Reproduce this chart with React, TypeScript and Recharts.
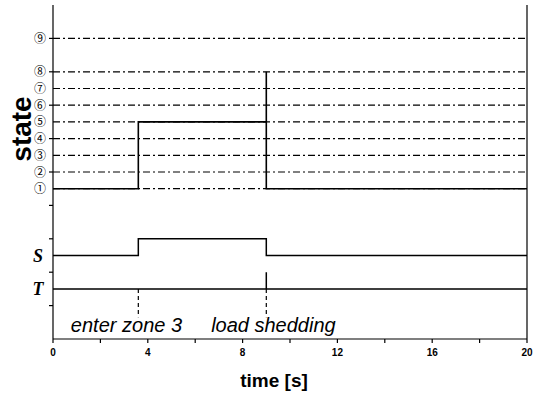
import React from "react";
import {
  ComposedChart,
  Line,
  Scatter,
  XAxis,
  YAxis,
  ReferenceLine,
  Label,
} from "recharts";

// step vertices of each trace (time in s, level on the common y scale)
const stateTimes = [0, 3.6, 3.6, 9, 9, 9, 20];
const stateLevels = [1, 1, 5, 5, 8, 1, 1];
const sTimes = [0, 3.6, 3.6, 9, 9, 20];
const sLevels = [-3, -3, -2, -2, -3, -3];
const tTimes = [0, 9, 9, 9, 20];
const tLevels = [-5, -5, -4, -5, -5];

// dash-dot state lines; state 9 sits two steps above state 8
const gridLevels = [1, 2, 3, 4, 5, 6, 7, 8, 10];
const yTicks = [-6, -5, -4, -3, -2, 0, 1, 2, 3, 4, 5, 6, 7, 8, 10];
const yLabels: Record<number, string> = {
  1: "①",
  2: "②",
  3: "③",
  4: "④",
  5: "⑤",
  6: "⑥",
  7: "⑦",
  8: "⑧",
  10: "⑨",
  [-3]: "S",
  [-5]: "T",
};
const xTicks = [0, 2, 4, 6, 8, 10, 12, 14, 16, 18, 20];

const eventTimes = [3.6, 9];
const eventLabels = ["enter zone 3", "load shedding"];
const eventLabelTimes = [3.1, 9.3];

const toPoints = (ts: number[], vs: number[]) => ts.map((t, i) => ({ t, v: vs[i] }));

const stateData = toPoints(stateTimes, stateLevels);
const sData = toPoints(sTimes, sLevels);
const tData = toPoints(tTimes, tLevels);
const notes = eventLabels.map((label, i) => ({ t: eventLabelTimes[i], v: -7.6, label }));

const YTick = ({ x, y, payload }: any) => {
  const v = payload.value;
  const txt = yLabels[v];
  const isLetter = v === -3 || v === -5;
  return (
    <g>
      {v % 2 === 0 && <line x1={x - 4} x2={x} y1={y} y2={y} stroke="#000" strokeWidth={1.2} />}
      {txt && (
        <text
          x={isLetter ? x - 15 : x - 13}
          y={y}
          dy={isLetter ? 6 : 4.5}
          textAnchor="middle"
          fontFamily={isLetter ? "'Liberation Serif', serif" : "'Noto Sans CJK JP', sans-serif"}
          fontStyle={isLetter ? "italic" : "normal"}
          fontWeight={isLetter ? "bold" : "normal"}
          fontSize={isLetter ? 18 : 12}
          fill="#000"
        >
          {txt}
        </text>
      )}
    </g>
  );
};

const XTick = ({ x, y, payload }: any) => {
  const v = payload.value;
  return (
    <g>
      <line x1={x} x2={x} y1={y} y2={y + 4} stroke="#000" strokeWidth={1.2} />
      {v % 4 === 0 && (
        <text
          x={x}
          y={y + 17}
          textAnchor="middle"
          fontFamily="'Liberation Sans', Arial, sans-serif"
          fontWeight="bold"
          fontSize={10}
          fill="#000"
        >
          {v}
        </text>
      )}
    </g>
  );
};

const NoteShape = (p: any) => (
  <text
    x={p.cx}
    y={p.cy}
    textAnchor="middle"
    fontFamily="'Liberation Sans', Arial, sans-serif"
    fontStyle="italic"
    fontSize={20}
    fill="#000"
  >
    {p.payload.label}
  </text>
);

export default function App() {
  return (
    <div style={{ position: "fixed", left: 0, top: 0, background: "#fff" }}>
      <ComposedChart width={533} height={400} margin={{ top: 5, right: 0, bottom: 41, left: 0 }}>
        <XAxis
          dataKey="t"
          type="number"
          domain={[0, 20]}
          ticks={xTicks}
          allowDuplicatedCategory={false}
          stroke="#000"
          strokeWidth={1.2}
          height={20}
          tickSize={0}
          tickMargin={0}
          tick={<XTick />}
          interval={0}
        >
          <Label
            content={({ viewBox }: any) => (
              <text
                x={viewBox.x + viewBox.width / 2 - 16}
                y={387}
                textAnchor="middle"
                fontFamily="'Liberation Sans', Arial, sans-serif"
                fontWeight="bold"
                fontSize={19}
                fill="#000"
              >
                time [s]
              </text>
            )}
          />
        </XAxis>
        <XAxis
          xAxisId="top"
          orientation="top"
          type="number"
          domain={[0, 20]}
          height={0}
          tick={false}
          tickLine={false}
          stroke="#000"
          strokeWidth={1.2}
        />
        <YAxis
          type="number"
          domain={[-8, 12]}
          ticks={yTicks}
          interval={0}
          width={53}
          stroke="#000"
          strokeWidth={1.2}
          tickSize={0}
          tickMargin={0}
          tick={<YTick />}
        >
          <Label
            content={() => (
              <text
                x={0}
                y={0}
                transform="translate(31,129) rotate(-90)"
                textAnchor="middle"
                fontFamily="'Liberation Sans', Arial, sans-serif"
                fontWeight="bold"
                fontSize={28}
                fill="#000"
              >
                state
              </text>
            )}
          />
        </YAxis>
        <YAxis
          yAxisId="right"
          orientation="right"
          type="number"
          domain={[-8, 12]}
          width={6}
          tick={false}
          tickLine={false}
          stroke="#000"
          strokeWidth={1.2}
        />
        {gridLevels.map((g) => (
          <ReferenceLine key={g} y={g} stroke="#000" strokeWidth={1.2} strokeDasharray="7 3 2 3" />
        ))}
        {eventTimes.map((e) => (
          <ReferenceLine
            key={e}
            segment={[
              { x: e, y: -5 },
              { x: e, y: -6.7 },
            ]}
            stroke="#000"
            strokeWidth={1.2}
            strokeDasharray="4 3"
          />
        ))}
        <Line data={stateData} dataKey="v" type="linear" stroke="#000" strokeWidth={1.6} dot={false} isAnimationActive={false} />
        <Line data={sData} dataKey="v" type="linear" stroke="#000" strokeWidth={1.5} dot={false} isAnimationActive={false} />
        <Line data={tData} dataKey="v" type="linear" stroke="#000" strokeWidth={1.5} dot={false} isAnimationActive={false} />
        <Scatter data={notes} dataKey="v" shape={<NoteShape />} isAnimationActive={false} />
      </ComposedChart>
    </div>
  );
}
